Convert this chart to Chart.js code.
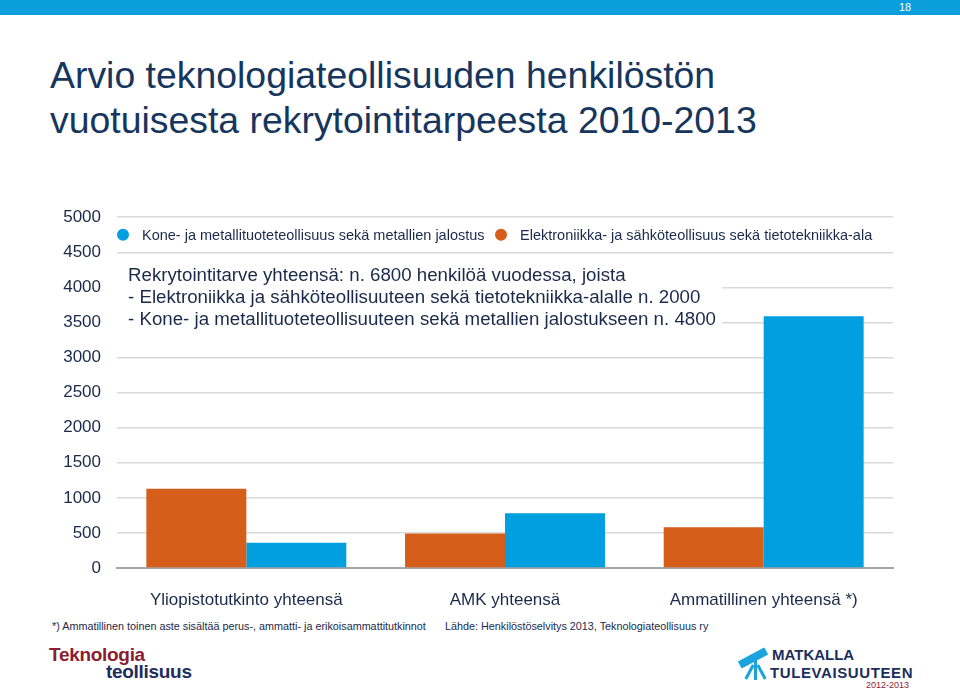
<!DOCTYPE html>
<html>
<head>
<meta charset="utf-8">
<script src="https://cdn.jsdelivr.net/npm/chart.js@4/dist/chart.umd.min.js"></script>
<style>
  body { margin: 0; width: 960px; height: 692px; background: #fff; position: relative; overflow: hidden;
         font-family: "Liberation Sans", Arial, sans-serif; }
  #topbar { position: absolute; left: 0; top: 0; width: 960px; height: 15px; background: #0a9fdc; }
  #pagenum { position: absolute; left: 899px; top: 0px; color: #fff; font-size: 11px; line-height: 15px; }
  #title { position: absolute; left: 50px; top: 53px; color: #17365d; font-size: 37.4px; line-height: 45px; }
  #wrap { position: absolute; left: 0; top: 191px; width: 910px; height: 429px; }
  .note { position: absolute; top: 620px; font-size: 10.8px; color: #1b2a4a; }
  .logo1 { position: absolute; left: 49px; top: 644px; font-weight: bold; font-size: 19px; color: #8c1c30; letter-spacing: -0.3px; }
  .logo2 { position: absolute; left: 106px; top: 661px; font-weight: bold; font-size: 19px; color: #1d2d5c; letter-spacing: -0.3px; }
  .mt { position: absolute; font-weight: bold; color: #1d2d5c; }
  .scope { position: absolute; background: #1ba3dd; }
</style>
</head>
<body>
<div id="topbar"></div>
<div id="pagenum">18</div>
<div id="title">Arvio teknologiateollisuuden henkilöstön<br>vuotuisesta rekrytointitarpeesta 2010-2013</div>
<div id="wrap"><canvas id="chart"></canvas></div>
<div class="note" style="left:52px">*) Ammatillinen toinen aste sisältää perus-, ammatti- ja erikoisammattitutkinnot</div>
<div class="note" style="left:445px">Lähde: Henkilöstöselvitys 2013, Teknologiateollisuus ry</div>
<div class="logo1">Teknologia</div>
<div class="logo2">teollisuus</div>
<div class="scope" style="left:738px;top:654px;width:30px;height:8px;transform:rotate(-28deg)"></div>
<div class="scope" style="left:754px;top:660px;width:3px;height:20px"></div>
<div class="scope" style="left:748px;top:664px;width:3px;height:16px;transform:rotate(28deg)"></div>
<div class="scope" style="left:760px;top:664px;width:3px;height:16px;transform:rotate(-28deg)"></div>
<div class="mt" style="left:772px;top:646px;font-size:15px;letter-spacing:0px">MATKALLA</div>
<div class="mt" style="left:770px;top:664px;font-size:15px;letter-spacing:0.6px">TULEVAISUUTEEN</div>
<div style="position:absolute;left:866px;top:680px;font-size:9px;color:#8c1c30">2012-2013</div>

<script>
// data
var categories = ['Yliopistotutkinto yhteensä', 'AMK yhteensä', 'Ammatillinen yhteensä *)'];
var elektroniikka = [1130, 490, 580];
var kone = [360, 780, 3590];
var seriesNames = ['Elektroniikka- ja sähköteollisuus sekä tietotekniikka-ala',
                   'Kone- ja metallituoteteollisuus sekä metallien jalostus'];
var yMax = 5000;
var yStep = 500;
var noteLines = [
    'Rekrytointitarve yhteensä: n. 6800 henkilöä vuodessa, joista',
    '- Elektroniikka ja sähköteollisuuteen sekä tietotekniikka-alalle n. 2000',
    '- Kone- ja metallituoteteollisuuteen sekä metallien jalostukseen n. 4800'
];

var orange = '#d55e1b';
var blue = '#009fdf';
var navy = '#1b2a4a';

// legend + text box drawn inside the plot area
var overlay = {
    id: 'overlay',
    afterDraw: function (chart) {
        var ctx = chart.ctx;
        var area = chart.chartArea;
        var y = chart.scales.y;
        ctx.save();

        // legend, blue series first
        var items = [
            { x: area.left + 6, color: blue, text: seriesNames[1] },
            { x: area.left + 384, color: orange, text: seriesNames[0] }
        ];
        var ly = (y.getPixelForValue(5000) + y.getPixelForValue(4500)) / 2;
        ctx.font = '14.5px "Liberation Sans", Arial, sans-serif';
        ctx.textBaseline = 'middle';
        items.forEach(function (it) {
            ctx.fillStyle = it.color;
            ctx.beginPath();
            ctx.arc(it.x, ly, 6, 0, Math.PI * 2);
            ctx.fill();
            ctx.fillStyle = navy;
            ctx.fillText(it.text, it.x + 19, ly + 1);
        });

        // white box hiding the gridlines behind the note
        var top = y.getPixelForValue(4400);
        var bottom = y.getPixelForValue(3250);
        ctx.fillStyle = '#fff';
        ctx.fillRect(area.left, top, 605, bottom - top);
        ctx.fillStyle = navy;
        ctx.font = '18.7px "Liberation Sans", Arial, sans-serif';
        noteLines.forEach(function (t, i) {
            ctx.fillText(t, area.left + 11, y.getPixelForValue(4170) + i * 22);
        });
        ctx.restore();
    }
};

new Chart(document.getElementById('chart'), {
    type: 'bar',
    data: {
        labels: categories,
        datasets: [
            { label: seriesNames[0], data: elektroniikka, backgroundColor: orange },
            { label: seriesNames[1], data: kone, backgroundColor: blue }
        ]
    },
    options: {
        responsive: true,
        maintainAspectRatio: false,
        animation: false,
        layout: { padding: { top: 8, right: 17, left: 0, bottom: 0 } },
        datasets: { bar: { categoryPercentage: 0.773, barPercentage: 1.0 } },
        plugins: {
            legend: { display: false },
            tooltip: { enabled: false }
        },
        scales: {
            x: {
                grid: { display: false },
                border: { display: true, color: '#a6a6a6', width: 2 },
                ticks: {
                    color: navy,
                    padding: 14,
                    font: { size: 17, family: '"Liberation Sans", Arial, sans-serif' }
                },
                afterFit: function (scale) { scale.height = 52; }
            },
            y: {
                min: 0,
                max: yMax,
                grid: { color: '#d9d9d9', lineWidth: 1.5, drawTicks: false },
                border: { display: false },
                ticks: {
                    stepSize: yStep,
                    color: navy,
                    padding: 16,
                    font: { size: 17, family: '"Liberation Sans", Arial, sans-serif' },
                    callback: function (v) { return String(v); }
                },
                afterFit: function (scale) { scale.width = 117; }
            }
        }
    },
    plugins: [overlay]
});
</script>
</body>
</html>
